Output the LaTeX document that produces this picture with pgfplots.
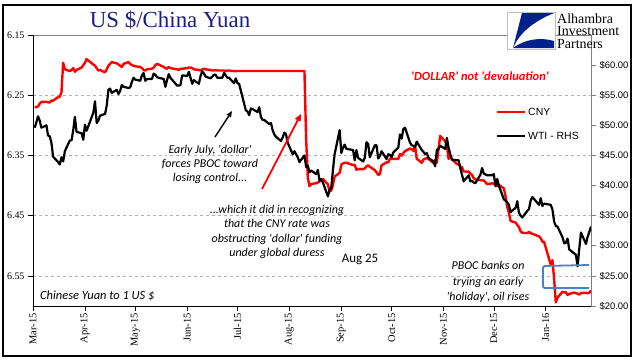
\documentclass[border=0pt]{standalone}
\usepackage{pgfplots}
\pgfplotsset{compat=1.18}
\usepackage{fontspec}
\setmainfont{Liberation Serif}
\newfontfamily\arial{Liberation Sans}
\newfontfamily\calibri{Carlito}
\usetikzlibrary{arrows.meta}
\definecolor{navy}{RGB}{28,32,128}
\definecolor{cnyred}{RGB}{255,0,0}
\definecolor{boxblue}{RGB}{79,129,189}
\definecolor{logoblue}{RGB}{0,32,140}
\begin{document}
\begin{tikzpicture}
\useasboundingbox (0,0) rectangle (641bp,-361bp);
\fill[white] (0,0) rectangle (641bp,-361bp);
% ---------- left axis: CNY ----------
\begin{axis}[
  at={(33bp,-306bp)}, anchor=south west, scale only axis,
  width=558bp, height=271bp,
  xmin=0, xmax=333, ymin=6.15, ymax=6.60, y dir=reverse,
  axis line style={draw=none},
  xtick={0,31,61,92,122,153,184,214,245,275,306},
  xticklabels={Mar-15,Apr-15,May-15,Jun-15,Jul-15,Aug-15,Sep-15,Oct-15,Nov-15,Dec-15,Jan-16},
  xticklabel style={rotate=90, anchor=east, font=\fontsize{10.5}{12}\selectfont, inner sep=2bp},
  ytick={6.15,6.25,6.35,6.45,6.55},
  yticklabel style={font=\fontsize{10}{12}\selectfont,
     /pgf/number format/.cd, fixed, fixed zerofill, precision=2, assume math mode=true},
  xtick pos=bottom, ytick pos=left,
  tick align=outside, major tick length=5bp,
  tick style={black, line width=0.6bp},
  ymajorgrids, grid style={gray!60, dashed, line width=0.4bp},
]
\addplot[cnyred, line width=2.4bp, line join=round] coordinates {
(1,6.2695)(2,6.2700)(3,6.2687)(4,6.2640)(5,6.2610)(8,6.2610)(9,6.2618)(10,6.2620)(11,6.2589)(12,6.2590)(15,6.2530)(16,6.2525)(17,6.2450)(18,6.1960)(19,6.2070)(22,6.2100)(23,6.2080)(24,6.2050)(25,6.2111)(26,6.2080)(29,6.2040)(30,6.2000)
(31,6.1960)(32,6.1900)(36,6.1990)(37,6.2010)(38,6.2050)(39,6.2090)(40,6.2080)(43,6.2120)(44,6.2070)(45,6.2010)(46,6.1980)(47,6.1950)(50,6.1970)(51,6.1990)(52,6.2010)(53,6.2030)(54,6.1980)(57,6.1950)(58,6.1980)(59,6.2000)(60,6.2010)
(61,6.2020)(64,6.2030)(65,6.2050)(66,6.2080)(67,6.2090)(68,6.2070)(71,6.2060)(72,6.2040)(73,6.2000)(74,6.1980)(75,6.1990)(78,6.2030)(79,6.2050)(80,6.2060)(81,6.2030)(82,6.2050)(86,6.2070)(87,6.2080)(88,6.2060)(89,6.2060)
(92,6.2050)(93,6.2040)(94,6.2040)(95,6.2050)(96,6.2070)(99,6.2080)(100,6.2090)(101,6.2070)(102,6.2060)(103,6.2070)(106,6.2080)(107,6.2090)(108,6.2090)(109,6.2080)(110,6.2090)(113,6.2090)(114,6.2090)(115,6.2100)(116,6.2090)(117,6.2090)(120,6.2100)(121,6.2100)
(122,6.2097)(123,6.2097)(127,6.2097)(128,6.2098)(129,6.2097)(130,6.2097)(131,6.2097)(134,6.2098)(135,6.2097)(136,6.2097)(137,6.2097)(138,6.2097)(141,6.2097)(142,6.2097)(143,6.2097)(144,6.2097)(145,6.2097)(148,6.2097)(149,6.2097)(150,6.2097)(151,6.2097)(152,6.2097)
(155,6.2097)(156,6.2097)(157,6.2097)(158,6.2097)(159,6.2097)(162,6.2097)(163,6.3231)(164,6.3870)(165,6.4010)(166,6.3975)(169,6.3960)(170,6.3950)(171,6.3930)(172,6.3920)(173,6.3890)(176,6.3980)(177,6.4100)(178,6.4080)(179,6.3990)(180,6.3850)(183,6.3790)
(184,6.3653)(185,6.3631)(186,6.3623)(187,6.3620)(191,6.3660)(192,6.3655)(193,6.3737)(194,6.3727)(197,6.3728)(198,6.3715)(199,6.3680)(200,6.3665)(201,6.3687)(204,6.3745)(205,6.3780)(206,6.3823)(207,6.3810)(208,6.3664)(211,6.3613)(212,6.3617)(213,6.3556)
(214,6.3556)(215,6.3556)(218,6.3556)(219,6.3475)(220,6.3503)(221,6.3464)(222,6.3427)(225,6.3385)(226,6.3395)(227,6.3425)(228,6.3338)(229,6.3553)(232,6.3622)(233,6.3569)(234,6.3553)(235,6.3545)(236,6.3557)(239,6.3627)(240,6.3572)(241,6.3620)(242,6.3395)(243,6.3175)
(246,6.3266)(247,6.3331)(248,6.3555)(249,6.3500)(250,6.3562)(253,6.3646)(254,6.3640)(255,6.3684)(256,6.3692)(257,6.3767)(260,6.3768)(261,6.3802)(262,6.3825)(263,6.3876)(264,6.3897)(267,6.3912)(268,6.3916)(269,6.3913)(271,6.3978)(274,6.3962)
(275,6.3970)(276,6.3990)(277,6.4012)(278,6.3990)(281,6.4046)(282,6.4180)(283,6.4350)(284,6.4450)(285,6.4588)(288,6.4615)(289,6.4653)(290,6.4690)(291,6.4760)(292,6.4785)(295,6.4788)(296,6.4771)(297,6.4790)(298,6.4800)(302,6.4845)(303,6.4875)(304,6.4930)(305,6.4936)
(309,6.5315)(310,6.5238)(311,6.5555)(312,6.5940)(313,6.5860)(316,6.5763)(317,6.5775)(318,6.5770)(319,6.5818)(320,6.5800)(323,6.5777)(324,6.5788)(325,6.5795)(326,6.5810)(327,6.5785)(330,6.5780)(331,6.5790)(332,6.5780)(333,6.5740)
};
\end{axis}
% ---------- right axis: WTI ----------
\begin{axis}[
  at={(33bp,-306bp)}, anchor=south west, scale only axis,
  width=558bp, height=271bp,
  xmin=0, xmax=333, ymin=20, ymax=65,
  hide x axis, axis y line*=right,
  axis line style={gray, line width=0.8bp},
  ytick={20,25,30,35,40,45,50,55,60},
  yticklabel={\$\pgfmathprintnumber[fixed,fixed zerofill,precision=2,assume math mode=true]{\tick}},
  yticklabel style={font=\arial\fontsize{9.5}{11}\selectfont},
  tick align=outside, major tick length=5bp,
  tick style={gray, line width=0.6bp},
]
\addplot[black, line width=2.2bp, line join=round] coordinates {
(1,49.6)(2,50.5)(3,51.5)(4,50.8)(5,49.6)(8,50.0)(9,48.3)(10,48.2)(11,47.1)(12,44.8)(15,43.9)(16,43.5)(17,44.7)(18,44.0)(19,45.7)(22,47.5)(23,47.5)(24,49.2)(25,51.4)(26,48.9)(29,48.7)(30,47.6)
(31,50.1)(32,49.1)(36,52.1)(37,54.0)(38,50.4)(39,50.8)(40,51.6)(43,51.9)(44,53.3)(45,55.9)(46,56.1)(47,55.4)(50,55.9)(51,55.2)(52,55.7)(53,56.7)(54,56.4)(57,56.2)(58,56.3)(59,57.2)(60,57.9)
(61,57.6)(64,57.4)(65,58.3)(66,58.7)(67,57.4)(68,57.7)(71,57.7)(72,58.6)(73,58.4)(74,58.0)(75,57.9)(78,57.7)(79,56.4)(80,57.5)(81,58.5)(82,57.9)(86,56.6)(87,56.6)(88,56.7)(89,58.3)
(92,58.2)(93,58.9)(94,57.9)(95,56.9)(96,57.5)(99,56.9)(100,58.2)(101,59.0)(102,58.6)(103,58.1)(106,57.8)(107,58.1)(108,58.4)(109,58.4)(110,57.9)(113,57.9)(114,58.7)(115,58.3)(116,57.9)(117,57.9)(120,57.0)(121,57.8)
(122,57.0)(123,56.9)(127,52.5)(128,52.3)(129,51.7)(130,52.8)(131,52.7)(134,52.2)(135,53.0)(136,51.4)(137,50.9)(138,50.9)(141,50.2)(142,50.4)(143,49.2)(144,48.5)(145,48.1)(148,47.4)(149,48.0)(150,48.8)(151,48.5)(152,47.1)
(155,45.2)(156,45.7)(157,45.2)(158,44.7)(159,43.9)(162,45.0)(163,43.1)(164,43.3)(165,42.2)(166,42.5)(169,41.9)(170,42.6)(171,40.8)(172,41.1)(173,40.5)(176,38.2)(177,39.3)(178,39.6)(179,42.6)(180,45.2)(183,49.2)
(184,45.4)(185,46.3)(186,46.8)(187,46.1)(191,45.9)(192,44.2)(193,45.9)(194,44.6)(197,44.0)(198,44.6)(199,47.2)(200,46.9)(201,44.7)(204,46.7)(205,46.7)(206,44.5)(207,44.9)(208,45.7)(211,44.4)(212,45.2)(213,45.1)
(214,44.7)(215,45.5)(218,46.3)(219,48.5)(220,47.8)(221,49.4)(222,49.6)(225,47.1)(226,46.7)(227,46.6)(228,46.4)(229,47.3)(232,45.9)(233,45.6)(234,45.2)(235,45.4)(236,44.6)(239,44.0)(240,43.2)(241,45.9)(242,46.1)(243,46.6)
(246,46.1)(247,47.9)(248,46.3)(249,45.2)(250,44.3)(253,44.2)(254,44.2)(255,42.9)(256,41.8)(257,40.7)(260,41.7)(261,40.7)(262,40.8)(263,40.5)(264,40.4)(267,41.8)(268,42.9)(269,42.0)(271,41.7)(274,41.7)
(275,41.9)(276,39.9)(277,41.1)(278,40.0)(281,37.7)(282,37.5)(283,37.2)(284,36.8)(285,35.6)(288,36.3)(289,37.4)(290,35.5)(291,35.0)(292,34.7)(295,35.8)(296,36.1)(297,37.5)(298,38.1)(302,36.8)(303,37.9)(304,36.6)(305,37.0)
(309,36.8)(310,36.0)(311,34.0)(312,33.3)(313,33.2)(316,31.4)(317,30.4)(318,30.5)(319,31.2)(320,29.4)(324,28.5)(325,26.6)(326,29.5)(327,32.2)(330,30.3)(331,31.5)(332,32.3)(333,33.2)
};
\end{axis}
% ---------- axis frame lines ----------
\draw[gray, line width=0.8bp] (33bp,-35bp) -- (591bp,-35bp);
\draw[black, line width=0.8bp] (33bp,-35bp) -- (33bp,-306bp) -- (591bp,-306bp);
% ---------- outer frame ----------
\draw[black, line width=1.2bp] (3bp,-5bp) rectangle (631bp,-356bp);
% ---------- title ----------
\node[anchor=base, text=navy, font=\fontsize{23}{26}\selectfont, inner sep=0] at (170bp,-27bp) {US \$/China Yuan};
% ---------- logo ----------
\filldraw[fill=white, draw=gray!50, line width=0.6bp] (507bp,-12bp) rectangle (555bp,-49bp);
\fill[logoblue] (522bp,-13bp) -- (554bp,-13bp) .. controls (532bp,-22bp) and (519bp,-34bp) .. (513bp,-48bp) -- cycle;
\fill[logoblue] (513bp,-48bp) .. controls (525bp,-39bp) and (541bp,-37bp) .. (554bp,-41bp) -- (554bp,-48bp) -- cycle;
\node[anchor=west, align=left, font=\fontsize{14}{12.5}\selectfont, inner sep=0] at (557bp,-31bp) {Alhambra\\Investment\\Partners};
% ---------- red headline ----------
\node[text=cnyred, font=\calibri\bfseries\itshape\fontsize{12.5}{14}\selectfont] at (480bp,-76bp) {'DOLLAR' not 'devaluation'};
% ---------- legend ----------
\draw[cnyred, line width=2.4bp] (497bp,-112bp) -- (525bp,-112bp);
\node[anchor=west, font=\arial\fontsize{10.5}{12}\selectfont, inner sep=0] at (528bp,-112bp) {CNY};
\draw[black, line width=2.4bp] (497bp,-136bp) -- (525bp,-136bp);
\node[anchor=west, font=\arial\fontsize{10.5}{12}\selectfont, inner sep=0] at (528bp,-136bp) {WTI - RHS};
% ---------- annotations ----------
\node[align=center, font=\calibri\itshape\fontsize{12}{14}\selectfont] at (210bp,-164bp) {Early July, 'dollar'\\forces PBOC toward\\losing control...};
\draw[black, line width=1.4bp, -{Triangle[length=6bp,width=5bp]}] (215bp,-137bp) -- (232bp,-111bp);
\draw[cnyred, line width=1.8bp, -{Triangle[length=7bp,width=6bp]}] (262bp,-189bp) -- (301bp,-114bp);
\node[align=center, font=\calibri\itshape\fontsize{12}{14.5}\selectfont] at (277bp,-232bp) {...which it did in recognizing\\that the CNY rate was\\obstructing 'dollar' funding\\under global duress};
\node[font=\calibri\fontsize{13}{15}\selectfont] at (360bp,-259bp) {Aug 25};
\node[align=center, font=\calibri\itshape\fontsize{12}{15.5}\selectfont] at (488bp,-282bp) {PBOC banks on\\trying an early\\'holiday', oil rises};
\node[anchor=west, font=\calibri\itshape\fontsize{12.5}{14}\selectfont, inner sep=0] at (40bp,-296bp) {Chinese Yuan to 1 US \$};
% ---------- blue bracket ----------
\draw[boxblue, line width=1.8bp, rounded corners=1.5bp] (589bp,-265bp) -- (543bp,-266bp) -- (543bp,-288bp) -- (589bp,-288bp);
\end{tikzpicture}
\end{document}
